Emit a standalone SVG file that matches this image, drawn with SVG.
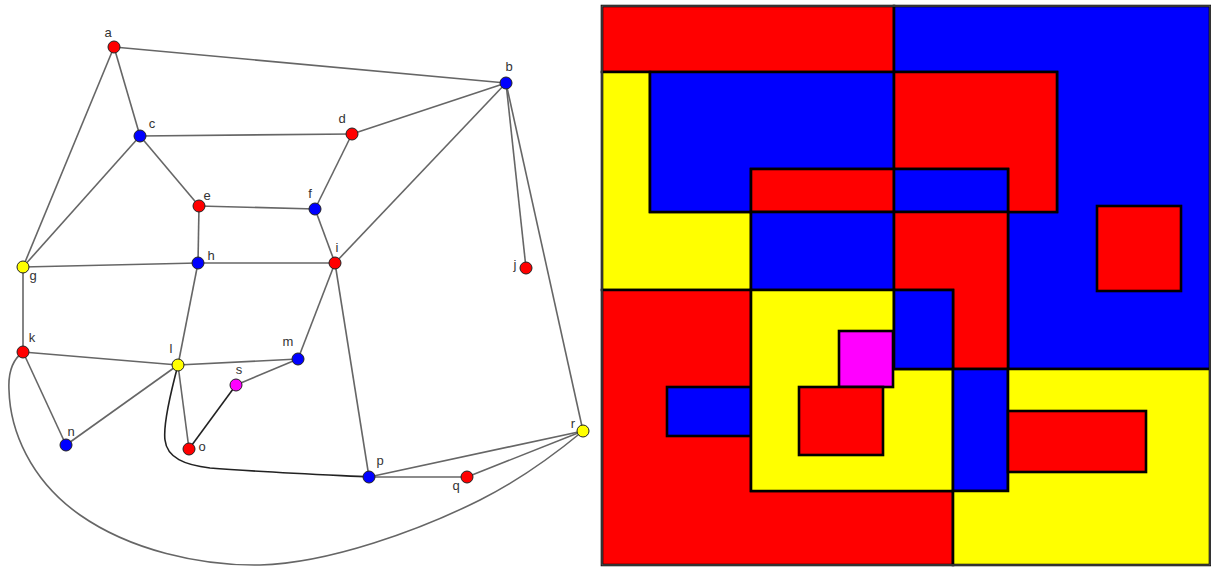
<svg xmlns="http://www.w3.org/2000/svg" width="1211" height="567" viewBox="0 0 1211 567">
<style>
.e{fill:none;stroke:#666;stroke-width:1.6}
.ek{fill:none;stroke:#222;stroke-width:1.6}
.n{stroke:#222;stroke-width:1}
.R{fill:#ff0000}.B{fill:#0000ff}.Y{fill:#ffff00}.M{fill:#ff00ff}
.t{font-family:"Liberation Sans",Arial,sans-serif;font-size:13px;fill:#333;text-anchor:middle}
.rg{stroke:#000;stroke-width:2.6;stroke-linejoin:miter}
</style>
<rect width="1211" height="567" fill="#fff"/>
<g id="connectors">
<line class="e" x1="114" y1="47" x2="506" y2="83"/>
<line class="e" x1="114" y1="47" x2="140" y2="136"/>
<line class="e" x1="114" y1="47" x2="23" y2="267"/>
<line class="e" x1="140" y1="136" x2="352" y2="134"/>
<line class="e" x1="140" y1="136" x2="199" y2="206"/>
<line class="e" x1="140" y1="136" x2="23" y2="267"/>
<line class="e" x1="352" y1="134" x2="506" y2="83"/>
<line class="e" x1="352" y1="134" x2="315" y2="209"/>
<line class="e" x1="199" y1="206" x2="315" y2="209"/>
<line class="e" x1="199" y1="206" x2="198" y2="263"/>
<line class="e" x1="315" y1="209" x2="335" y2="263"/>
<line class="e" x1="506" y1="83" x2="335" y2="263"/>
<line class="e" x1="506" y1="83" x2="526" y2="268"/>
<line class="e" x1="506" y1="83" x2="583" y2="431"/>
<line class="e" x1="23" y1="267" x2="198" y2="263"/>
<line class="e" x1="198" y1="263" x2="335" y2="263"/>
<line class="e" x1="23" y1="267" x2="23" y2="352"/>
<line class="e" x1="198" y1="263" x2="178" y2="365"/>
<line class="e" x1="335" y1="263" x2="298" y2="359"/>
<line class="e" x1="335" y1="263" x2="369" y2="477"/>
<line class="e" x1="23" y1="352" x2="178" y2="365"/>
<line class="e" x1="23" y1="352" x2="66" y2="445"/>
<line class="e" x1="66" y1="445" x2="178" y2="365"/>
<line class="e" x1="178" y1="365" x2="298" y2="359"/>
<line class="e" x1="178" y1="365" x2="189" y2="449"/>
<line class="e" x1="298" y1="359" x2="236" y2="385"/>
<line class="ek" x1="236" y1="385" x2="189" y2="449"/>
<path class="ek" d="M178,365 C170,395 163,425 165,440 C167,458 185,465 210,468 C260,472 330,475 369,477"/>
<path class="e" d="M23,352 C12,360 8,372 9,390 C10,430 30,480 80,515 C130,550 200,566 260,565 C330,563 420,530 480,500 C520,480 560,450 583,431"/>
<line class="e" x1="369" y1="477" x2="583" y2="431"/>
<line class="e" x1="369" y1="477" x2="467" y2="477"/>
<line class="e" x1="467" y1="477" x2="583" y2="431"/>
</g>
<g id="node-a"><circle class="n R" cx="114" cy="47" r="6"/><text class="t" x="108" y="37">a</text></g>
<g id="node-b"><circle class="n B" cx="506" cy="83" r="6"/><text class="t" x="509" y="71">b</text></g>
<g id="node-c"><circle class="n B" cx="140" cy="136" r="6"/><text class="t" x="152" y="128">c</text></g>
<g id="node-d"><circle class="n R" cx="352" cy="134" r="6"/><text class="t" x="342" y="123">d</text></g>
<g id="node-e"><circle class="n R" cx="199" cy="206" r="6"/><text class="t" x="207" y="200">e</text></g>
<g id="node-f"><circle class="n B" cx="315" cy="209" r="6"/><text class="t" x="310" y="198">f</text></g>
<g id="node-g"><circle class="n Y" cx="23" cy="267" r="6"/><text class="t" x="33" y="280">g</text></g>
<g id="node-h"><circle class="n B" cx="198" cy="263" r="6"/><text class="t" x="211" y="260">h</text></g>
<g id="node-i"><circle class="n R" cx="335" cy="263" r="6"/><text class="t" x="337" y="252">i</text></g>
<g id="node-j"><circle class="n R" cx="526" cy="268" r="6"/><text class="t" x="515" y="269">j</text></g>
<g id="node-k"><circle class="n R" cx="23" cy="352" r="6"/><text class="t" x="32" y="342">k</text></g>
<g id="node-l"><circle class="n Y" cx="178" cy="365" r="6"/><text class="t" x="171" y="353">l</text></g>
<g id="node-m"><circle class="n B" cx="298" cy="359" r="6"/><text class="t" x="288" y="346">m</text></g>
<g id="node-n"><circle class="n B" cx="66" cy="445" r="6"/><text class="t" x="71" y="436">n</text></g>
<g id="node-o"><circle class="n R" cx="189" cy="449" r="6"/><text class="t" x="202" y="451">o</text></g>
<g id="node-p"><circle class="n B" cx="369" cy="477" r="6"/><text class="t" x="380" y="465">p</text></g>
<g id="node-q"><circle class="n R" cx="467" cy="477" r="6"/><text class="t" x="456" y="490">q</text></g>
<g id="node-r"><circle class="n Y" cx="583" cy="431" r="6"/><text class="t" x="573" y="428">r</text></g>
<g id="node-s"><circle class="n M" cx="236" cy="385" r="6"/><text class="t" x="239" y="374">s</text></g>
<g id="map">
<polygon class="rg R" points="602,6 894,6 894,72 602,72"/>
<polygon class="rg B" points="894,6 1210,6 1210,369 1008,369 1008,212 1057,212 1057,72 894,72"/>
<polygon class="rg Y" points="602,72 650,72 650,212 751,212 751,290 602,290"/>
<polygon class="rg B" points="650,72 894,72 894,169 751,169 751,212 650,212"/>
<polygon class="rg R" points="894,72 1057,72 1057,212 1008,212 1008,169 894,169"/>
<rect class="rg R" x="751" y="169" width="143" height="43"/>
<rect class="rg B" x="894" y="169" width="114" height="43"/>
<rect class="rg B" x="751" y="212" width="143" height="78"/>
<polygon class="rg R" points="894,212 1008,212 1008,369 953,369 953,290 894,290"/>
<rect class="rg R" x="1097" y="206" width="84" height="85"/>
<polygon class="rg R" points="602,290 751,290 751,491 953,491 953,565 602,565"/>
<rect class="rg B" x="667" y="387" width="84" height="49"/>
<polygon class="rg Y" points="751,290 894,290 894,369 953,369 953,491 751,491"/>
<rect class="rg B" x="894" y="290" width="59" height="79"/>
<rect class="rg M" x="839" y="331" width="54" height="56"/>
<rect class="rg R" x="799" y="387" width="84" height="68"/>
<rect class="rg B" x="953" y="369" width="55" height="122"/>
<polygon class="rg Y" points="1008,369 1210,369 1210,565 953,565 953,491 1008,491"/>
<rect class="rg R" x="1008" y="411" width="138" height="61"/>
<rect x="602" y="6" width="608" height="559" fill="none" stroke="#555" stroke-width="1.2"/>
</g>
</svg>
